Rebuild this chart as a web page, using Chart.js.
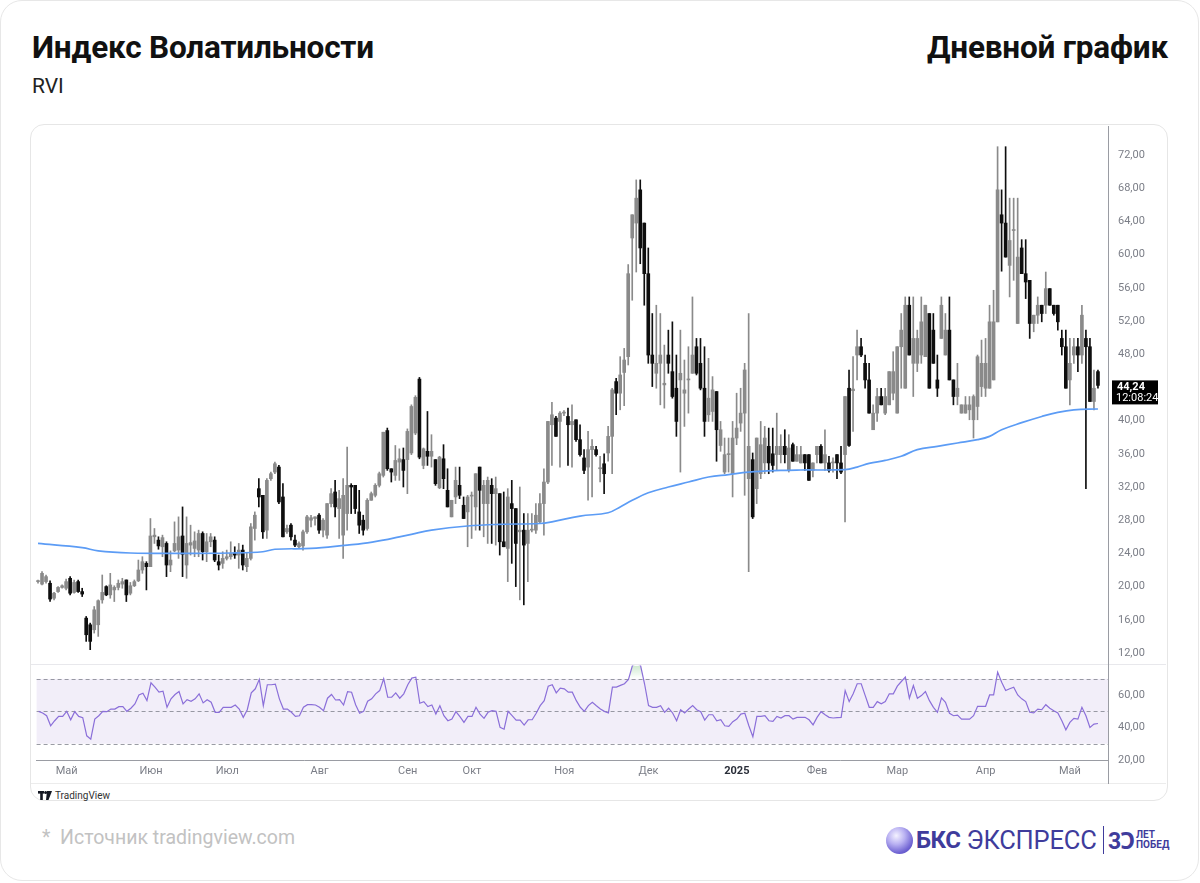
<!DOCTYPE html>
<html lang="ru">
<head>
<meta charset="utf-8">
<script src="https://cdn.jsdelivr.net/npm/chart.js@4.4.1/dist/chart.umd.min.js"></script>
<style>
  html, body { margin: 0; padding: 0; background: #fff; }
  body { width: 1200px; height: 883px; position: relative; overflow: hidden; font-family: Roboto, "Noto Sans", sans-serif; }
  .outer { position: absolute; left: 0; top: 0; width: 1197px; height: 879px; border: 1.5px solid #e7e7e7; border-radius: 22px; }
  .title { position: absolute; top: 29px; font-weight: 700; font-size: 31.5px; color: #111; letter-spacing: -0.2px; }
  .sub { position: absolute; left: 32px; top: 74px; font-size: 21px; color: #222; }
  .card { position: absolute; left: 30px; top: 124px; width: 1136px; height: 675px; border: 1px solid #e6e6e6; border-radius: 14px; }
  .sep { position: absolute; height: 1px; background: #e8e8ec; }
  .wrap { position: absolute; }
  .tv { position: absolute; left: 38px; top: 790px; font-size: 10px; color: #333; display: flex; align-items: center; gap: 3px; }
  .src { position: absolute; left: 42px; top: 826px; font-size: 19.5px; color: #c2c2c2; }
  .logo { position: absolute; left: 886px; top: 823px; height: 34px; display: flex; align-items: center; color: #3f3c9c; }
  .ball { width: 27px; height: 27px; border-radius: 50%; background: radial-gradient(circle at 38% 32%, #f4f2ff 0%, #b9b1f2 35%, #6e62d2 70%, #4a3fb4 100%); margin-right: 3px; }
  .bks { font-weight: 700; font-size: 24px; letter-spacing: -0.5px; }
  .exp { font-weight: 400; font-size: 25.5px; margin-left: 6px; letter-spacing: -0.2px; }
  .bar { width: 1.5px; height: 28px; background: #3f3c9c; margin: 0 4px 0 6px; }
  .n30 { font-weight: 700; font-size: 23px; letter-spacing: -1px; }
  .let { font-weight: 700; font-size: 10px; line-height: 10px; margin-left: 2px; }
</style>
</head>
<body>
<div class="outer"></div>
<div class="title" style="left:32px;">Индекс Волатильности</div>
<div class="title" style="right:32px;">Дневной график</div>
<div class="sub">RVI</div>

<div class="card"></div>
<div class="sep" style="left:31px; top:664px; width:1135px;"></div>
<div class="sep" style="left:31px; top:783px; width:1135px; background:#ececec;"></div>

<div class="wrap" style="left:36px; top:126px; width:1130px; height:539px;"><canvas id="main" width="1130" height="539"></canvas></div>
<div class="wrap" style="left:36px; top:665px; width:1130px; height:119px;"><canvas id="rsi" width="1130" height="119"></canvas></div>

<div class="tv"><svg width="14" height="9" viewBox="0 0 14 9"><rect x="0" y="0" width="6" height="2.6" fill="#131722"/><rect x="2.2" y="0" width="2.6" height="9" fill="#131722"/><circle cx="7.6" cy="1.5" r="1.5" fill="#131722"/><polygon points="9,0 14,0 10.5,9 8,9" fill="#131722"/></svg><span>TradingView</span></div>

<div class="src">*&nbsp; Источник tradingview.com</div>
<div class="logo">
  <div class="ball"></div>
  <span class="bks">БКС</span><span class="exp">ЭКСПРЕСС</span>
  <div class="bar"></div>
  <span class="n30">3Ͻ</span>
  <span class="let">ЛЕТ<br>ПОБЕД</span>
</div>

<script>
// ---------------- DATA ----------------
const opens = [
20.6,20.3,20.6,20.4,18.6,19.4,19.9,19.8,21.0,19.3,
20.6,19.4,16.2,15.4,14.8,15.4,18.4,20.0,19.0,19.6,
19.9,20.3,20.8,19.2,20.1,20.7,22.0,22.8,22.4,26.0,
25.6,24.8,25.2,22.6,24.3,24.4,26.1,22.6,25.0,24.6,
24.4,26.4,24.2,25.4,25.6,23.0,22.8,23.4,23.6,24.0,
23.8,24.4,22.4,23.4,27.0,31.8,31.0,26.8,33.0,33.8,
34.4,30.8,26.6,27.4,25.6,24.8,24.9,26.6,28.0,28.2,
28.6,26.8,26.2,30.0,31.4,29.4,26.2,28.8,32.2,32.2,
29.0,28.0,27.0,30.4,31.0,32.2,33.4,38.8,34.2,33.4,
35.0,35.3,35.3,36.1,38.5,45.0,34.6,36.3,35.7,35.3,
31.9,35.4,31.6,28.4,30.8,32.2,29.8,29.0,30.9,29.6,
34.4,30.0,30.0,32.2,31.2,31.2,25.4,24.6,30.0,29.4,
26.6,26.8,25.2,26.8,26.8,27.8,30.0,32.6,39.5,40.3,
39.9,40.9,40.5,39.5,40.1,37.7,35.5,34.4,36.5,36.5,
34.2,34.8,36.1,38.1,44.7,43.3,45.8,47.7,62.0,63.8,
67.8,63.8,57.7,47.9,45.7,46.9,44.3,47.9,45.9,43.9,
44.9,43.3,44.9,45.7,48.9,46.9,43.9,40.7,41.1,43.5,
37.0,33.8,35.9,33.6,37.9,39.7,40.9,33.0,35.3,31.8,
33.6,34.9,36.9,36.0,35.9,35.9,36.9,34.0,37.1,35.1,
34.9,35.9,35.9,34.0,35.9,36.9,34.9,34.9,34.9,35.9,
34.9,35.9,43.9,43.6,47.9,48.9,46.9,44.9,38.9,40.9,
42.9,40.9,41.9,43.3,40.9,48.9,43.9,53.9,46.9,46.9,
47.9,47.7,52.9,50.9,44.9,49.9,47.9,50.9,44.9,42.9,
40.9,40.9,41.3,40.1,41.7,44.1,43.9,43.9,44.9,51.9,
64.8,63.8,58.7,62.9,51.7,60.8,57.7,56.9,51.7,52.7,
53.9,53.9,55.9,53.9,53.9,49.9,48.9,44.9,47.9,48.9,
47.9,49.9,48.9,42.3,45.9];

const highs = [
20.8,21.8,21.4,20.7,19.3,20.0,20.2,20.9,21.2,20.8,
20.8,19.8,16.4,15.6,17.6,18.4,21.4,20.1,21.6,20.1,
20.8,21.0,20.8,20.5,20.8,23.2,23.6,23.0,28.2,27.0,
26.0,26.2,25.4,24.3,27.8,28.4,29.6,28.4,27.4,26.6,
26.8,26.6,26.4,26.4,26.0,23.8,24.2,24.4,25.4,24.8,
25.2,25.0,24.0,27.6,29.0,33.0,31.0,33.0,33.8,35.0,
34.6,32.4,27.4,27.6,26.2,25.4,26.8,28.6,28.6,28.4,
28.8,28.2,30.0,31.8,32.8,31.6,33.0,36.8,32.4,32.2,
31.6,28.6,30.6,31.4,32.4,33.8,38.6,39.1,34.2,37.0,
36.6,36.7,39.0,41.9,43.0,45.2,36.7,41.1,38.3,35.3,
35.7,37.1,34.2,30.4,34.4,34.4,30.8,31.0,31.4,33.6,
34.4,32.8,33.2,33.0,33.2,31.2,31.4,31.8,32.8,29.4,
32.0,28.8,28.8,28.8,30.0,31.2,34.2,39.9,42.2,40.5,
41.1,41.2,41.5,41.9,40.1,39.5,36.5,38.7,37.7,36.9,
35.7,36.0,39.3,43.9,45.1,47.7,48.7,58.8,64.8,69.0,
69.0,63.8,60.8,52.9,53.9,52.9,49.1,50.9,51.9,47.9,
50.9,47.3,48.9,54.9,49.9,49.9,48.9,47.5,45.3,43.5,
39.9,37.9,37.9,39.9,43.3,43.9,46.9,52.9,36.1,37.9,
39.9,39.3,39.1,39.1,40.9,38.3,38.9,38.3,37.3,36.9,
36.9,35.9,35.9,34.9,36.9,37.1,38.9,35.7,35.5,35.9,
36.9,42.9,46.1,47.7,50.9,49.9,47.9,46.9,41.9,43.9,
43.9,43.9,45.9,48.3,48.9,52.9,54.9,54.9,54.9,50.9,
54.9,53.9,52.9,52.9,47.9,54.9,52.9,54.9,44.9,46.9,
41.9,42.9,42.9,43.1,47.9,49.7,49.9,53.9,55.7,73.0,
67.8,73.0,66.8,66.8,66.8,61.8,61.8,56.9,52.7,54.9,
53.9,57.9,55.9,53.9,53.9,50.9,50.9,49.9,49.9,49.9,
53.9,50.9,49.9,46.1,46.1];

const lows = [
20.4,20.2,20.4,18.2,18.4,19.3,19.8,19.6,19.0,19.2,
19.3,18.8,13.4,12.4,14.4,14.0,18.0,18.9,18.6,18.2,
19.6,19.8,18.2,19.0,20.0,20.6,21.6,19.6,22.4,25.2,
24.5,23.6,21.2,21.8,24.2,23.4,21.2,21.0,23.8,23.6,
23.6,23.2,23.0,24.8,23.0,22.0,22.2,23.2,23.3,23.4,
22.2,22.0,21.8,23.2,25.6,29.6,25.8,25.8,32.8,33.6,
30.0,26.0,26.4,25.6,24.8,24.6,24.4,26.4,27.2,27.4,
26.4,26.0,25.8,29.6,28.4,25.8,23.4,26.8,28.8,28.8,
26.4,26.2,26.8,30.4,30.8,32.0,33.2,34.0,32.6,32.8,
32.8,32.0,31.2,35.9,38.3,35.4,34.2,34.6,34.4,32.2,
31.8,31.8,29.6,28.4,30.0,30.6,28.2,24.8,25.8,26.8,
26.8,26.0,25.2,25.2,25.0,23.8,24.8,20.6,22.8,20.0,
18.4,17.8,20.6,26.6,26.4,27.6,26.2,32.4,34.6,38.1,
34.4,40.6,34.6,34.4,37.5,35.7,33.6,30.4,30.8,35.7,
32.6,31.2,35.1,33.6,40.7,41.3,41.8,46.7,54.5,57.9,
58.9,53.9,46.9,44.1,43.9,41.9,41.5,45.7,42.7,38.1,
33.8,39.3,40.9,45.7,45.5,43.7,38.1,39.9,39.9,35.1,
36.3,33.6,33.8,30.8,37.1,38.7,31.0,21.8,28.2,30.0,
33.0,33.6,33.6,33.8,34.0,34.9,34.9,33.8,35.1,35.1,
34.9,34.0,32.8,33.2,34.9,34.9,34.0,33.8,33.8,33.0,
33.6,27.8,36.9,38.7,44.9,47.7,43.9,40.9,38.9,39.9,
41.9,40.7,41.9,42.5,40.9,43.9,43.9,47.9,42.9,45.9,
46.9,47.7,43.9,46.9,42.9,49.9,47.9,44.9,41.9,41.9,
40.9,40.9,40.1,37.9,40.1,42.9,42.9,43.9,44.9,51.9,
58.0,59.7,54.9,56.9,51.7,57.7,54.7,49.9,50.7,51.7,
51.9,52.9,53.9,52.7,50.9,47.9,43.9,41.9,46.9,45.9,
46.9,31.8,42.3,41.3,43.9];

const closes = [
20.6,21.6,21.2,18.5,19.2,19.9,20.1,20.6,19.2,20.5,
19.4,19.1,14.2,13.4,17.2,18.3,19.3,19.0,20.2,19.9,
20.4,20.6,19.0,20.1,20.6,22.0,23.0,22.4,26.1,26.2,
24.9,25.9,22.6,23.2,25.2,26.0,23.9,25.2,25.3,25.5,
26.4,24.2,25.4,26.0,23.2,22.6,23.4,23.6,24.0,23.8,
24.4,22.6,23.4,27.2,28.6,30.8,26.6,32.8,33.6,34.8,
30.2,26.0,27.0,26.0,25.0,25.2,26.6,28.4,28.3,28.4,
26.8,28.0,30.0,31.2,29.6,30.6,31.0,32.2,32.0,29.4,
27.4,26.8,30.4,31.2,32.2,33.6,38.6,34.2,33.8,35.2,
35.4,34.0,38.7,41.7,42.8,35.6,36.6,35.7,36.3,32.4,
35.6,33.0,29.6,30.4,32.8,31.0,28.2,30.8,30.9,33.6,
31.6,32.2,32.8,31.2,31.8,25.4,24.8,30.8,29.4,25.2,
26.8,25.0,26.8,26.8,28.6,30.0,32.6,39.9,40.7,38.1,
40.9,41.0,39.5,39.9,37.7,35.9,34.0,36.5,36.9,35.9,
34.2,33.6,38.1,43.7,43.3,45.5,47.3,57.7,64.8,66.8,
60.8,57.7,47.9,46.9,46.9,47.9,44.5,46.9,42.9,39.9,
45.7,43.7,44.9,47.9,45.7,43.9,39.9,42.7,43.7,38.9,
38.9,35.9,35.9,37.9,39.1,40.9,46.1,36.9,28.4,37.9,
37.1,37.9,34.9,34.6,36.9,36.9,35.9,36.7,35.1,35.9,
35.9,34.9,32.8,34.9,36.9,34.9,35.9,34.0,34.9,34.9,
33.8,42.9,37.0,43.8,48.9,47.9,44.9,40.9,40.9,42.9,
41.9,42.9,45.9,45.9,48.9,50.9,53.9,47.9,49.9,49.9,
51.9,53.9,43.9,46.9,43.9,53.9,50.9,44.9,42.9,43.9,
41.9,41.9,41.9,42.9,47.7,46.9,46.9,51.9,51.9,67.8,
63.8,59.7,61.7,63.0,59.7,57.7,56.7,51.7,52.7,53.9,
52.9,55.9,53.9,52.9,51.9,48.9,43.9,46.9,48.9,47.9,
52.7,48.9,42.3,43.9,44.24];

// Moving average: [candle index, value] pairs
const maIndex = [0,11,15,23,35,48,56,59,68,77,81,86,90,93,98,107,115,125,128,135,142,145,148,152,157,162,167,172,177,185,190,201,204,207,211,215,219,224,229,234,237,240,245,250,254,258,264];
const maValue = [25.2,24.7,24.3,24.05,24.0,24.05,24.2,24.5,24.6,25.0,25.2,25.6,26.0,26.3,26.8,27.3,27.5,27.6,27.8,28.5,28.9,29.6,30.4,31.3,32.0,32.6,33.2,33.5,33.8,34.0,34.05,34.1,34.4,34.85,35.2,35.7,36.5,36.9,37.3,37.7,38.1,38.9,39.75,40.5,41.0,41.3,41.4];

const rsiValues = [
50,49,47.3,41.1,44.2,46.9,46.9,50,44.8,49.8,
46.9,46.1,34.9,32.8,45.2,47.3,50,49.8,51.4,51.4,
52.9,52.9,50,51.9,54.6,60.1,61.2,56.6,67.6,64.9,
61.8,62.4,52.5,57.7,60.4,62.2,54.6,57.2,56.2,57.7,
60.8,55.2,57.2,55.6,49.4,49.4,52.5,52.5,52.5,53.9,
51.4,46.3,51.0,61.4,63.9,69.7,53.5,66.4,66.4,66.8,
57.7,51.4,51.4,49.4,46.9,47.3,52.5,54.1,54.1,53.9,
52.5,50.4,58.1,60.4,57.0,57.2,53.9,62.2,61.8,54.1,
48.8,50,56.2,57.7,60.8,62.8,70.1,58.7,58.7,61.4,
58.1,60.8,66.4,70.5,71.1,55.0,56.0,52.9,53.9,48.3,
53.5,47.3,44.2,45.2,49.8,46.7,43.2,46.9,46.9,52.5,
48.3,45.7,49.4,50.4,50.0,40.1,39.0,50,47.3,44.6,
44.6,41.5,44.8,44.8,48.8,53.5,56.6,65.5,66.4,61.4,
64.3,63.9,61.8,61.8,56.6,52.5,50,53.5,
55.6,53.5,51.5,50,49,64.9,64.9,66,67,69.7,78.4,79.4,
78.4,67,53.5,52.5,52.5,53.5,49.4,51.9,49,44.2,
51.0,49,51.4,53.5,51.0,49.8,44.6,47.9,47.9,44.2,
44.8,41.1,40.7,43.6,45.2,48.3,48.8,41.1,34.3,46.9,
46.9,47.3,44.2,43.8,46.9,45.9,47.3,47.3,45.2,46.3,
46.3,46.3,44.8,41.7,46.3,49.8,47.9,46.3,45.9,46.1,
46.3,62.8,
56.0,60.8,67,67,59.7,52.5,52.5,56.0,54.6,56.0,
60.8,60.8,65.5,68.4,71.1,58.1,65.9,58.1,59.7,62.2,
56.6,52.5,49.4,58.3,55.6,48.8,47.3,47.7,45.2,45.2,
45.2,47.3,53.1,53.1,53.1,60.1,60.1,74.2,68,62.8,
63.9,64.9,60.1,57.7,56.0,49.4,49,51.4,51.0,54.1,
51.9,50.4,49,44.2,38.6,43.2,45.7,45.2,52.5,47.3,
40.1,42.1,42.5];

const monthTickIndex = [7, 28, 47, 70, 92, 108, 131, 152, 174, 194, 214, 236, 257];
const monthTickLabel = ['Май','Июн','Июл','Авг','Сен','Окт','Ноя','Дек','2025','Фев','Мар','Апр','Май'];
const priceTicks = [12,16,20,24,28,32,36,40,44,48,52,56,60,64,68,72];
const rsiTicks = [20,40,60];
const rsiLevels = [70,50,30];
const rsiBand = [30,70];
const countdownText = '12:08:24';
const categoryCount = 267;

// ---------------- BUILD ----------------
const categories = Array.from({length: categoryCount}, (_, i) => String(i));
const monthMap = {};
monthTickIndex.forEach((ix, k) => { monthMap[ix] = monthTickLabel[k]; });
const fmt = v => Number(v).toFixed(2).replace('.', ',');

const UP = '#8a8a8a', DOWN = '#0e0e0e';
const candleColor = opens.map((o, i) => closes[i] >= o ? UP : DOWN);

Chart.defaults.font.family = 'Roboto, "Noto Sans", sans-serif';
Chart.defaults.animation = false;

const axisColor = '#9a9ca3';
const tickColor = '#7b7e87';

function fixY(width) {
  return s => { s.width = width; s.paddingTop = 0; s.paddingBottom = 0; };
}

const priceLabelPlugin = {
  id: 'priceLabel',
  afterDraw(chart) {
    const {ctx, chartArea: a, scales: {y}} = chart;
    const last = closes[closes.length - 1];
    const py = y.getPixelForValue(last);
    const x0 = a.right + 4;
    ctx.save();
    ctx.fillStyle = '#000';
    ctx.fillRect(x0, py - 5, 46, 24);
    ctx.fillStyle = '#fff';
    ctx.textBaseline = 'middle';
    ctx.textAlign = 'left';
    ctx.font = 'bold 11px Roboto, sans-serif';
    ctx.fillText(fmt(last), x0 + 5, py + 1.5);
    ctx.font = '11px Roboto, sans-serif';
    ctx.fillText(countdownText, x0 + 4, py + 12.5);
    ctx.restore();
  }
};

new Chart(document.getElementById('main'), {
  type: 'bar',
  data: {
    labels: categories,
    datasets: [
      {
        label: 'wick',
        data: lows.map((l, i) => [l, highs[i]]),
        backgroundColor: candleColor,
        barThickness: 1,
        grouped: false,
        borderWidth: 0,
        order: 3
      },
      {
        label: 'body',
        data: opens.map((o, i) => [o, closes[i]]),
        backgroundColor: candleColor,
        barThickness: 3,
        minBarLength: 1,
        grouped: false,
        borderWidth: 0,
        order: 2
      },
      {
        type: 'line',
        label: 'MA',
        data: maIndex.map((ix, k) => ({x: categories[ix], y: maValue[k]})),
        borderColor: '#5c9cf5',
        borderWidth: 1.7,
        pointRadius: 0,
        tension: 0.4,
        fill: false,
        order: 1
      }
    ]
  },
  options: {
    responsive: false,
    devicePixelRatio: 1,
    layout: {padding: 0},
    plugins: {legend: {display: false}, tooltip: {enabled: false}},
    scales: {
      x: {type: 'category', display: false, offset: true, grid: {display: false}},
      y: {
        position: 'right',
        min: 10.554, max: 75.494,
        afterBuildTicks: s => { s.ticks = priceTicks.map(v => ({value: v})); },
        afterFit: fixY(58),
        grid: {display: false, drawTicks: false},
        border: {display: true, color: axisColor, width: 1},
        ticks: {callback: v => fmt(v), color: tickColor, font: {size: 11}, padding: 10}
      }
    }
  },
  plugins: [priceLabelPlugin]
});

const rsiBackPlugin = {
  id: 'rsiBack',
  beforeDatasetsDraw(chart) {
    const {ctx, chartArea: a, scales: {y}} = chart;
    ctx.save();
    const yTop = y.getPixelForValue(rsiBand[1]);
    const yBot = y.getPixelForValue(rsiBand[0]);
    ctx.fillStyle = 'rgba(126,87,194,0.10)';
    ctx.fillRect(a.left, yTop, a.right - a.left, yBot - yTop);
    ctx.strokeStyle = 'rgba(120,123,134,0.75)';
    ctx.lineWidth = 1;
    ctx.setLineDash([4, 3]);
    rsiLevels.forEach(v => {
      const py = Math.round(y.getPixelForValue(v)) + 0.5;
      ctx.beginPath(); ctx.moveTo(a.left, py); ctx.lineTo(a.right, py); ctx.stroke();
    });
    ctx.restore();
  },
  afterDraw(chart) {
    const {ctx, chartArea: a} = chart;
    ctx.save();
    ctx.strokeStyle = axisColor;
    ctx.lineWidth = 1;
    const x = Math.round(a.right) + 0.5;
    ctx.beginPath(); ctx.moveTo(x, a.bottom); ctx.lineTo(x, chart.height); ctx.stroke();
    ctx.restore();
  }
};

const rsiChart = new Chart(document.getElementById('rsi'), {
  type: 'line',
  data: {
    labels: categories,
    datasets: [{
      label: 'RSI',
      data: rsiValues,
      borderColor: '#8b6fd9',
      borderWidth: 1.2,
      pointRadius: 0,
      tension: 0,
      fill: false
    }]
  },
  options: {
    responsive: false,
    devicePixelRatio: 1,
    layout: {padding: 0},
    plugins: {legend: {display: false}, tooltip: {enabled: false}},
    scales: {
      x: {
        type: 'category',
        offset: true,
        grid: {display: false, drawTicks: false},
        border: {display: true, color: axisColor, width: 1},
        afterFit: s => { s.height = 24; s.paddingLeft = 0; s.paddingRight = 0; },
        ticks: {
          autoSkip: false, maxRotation: 0, minRotation: 0, padding: 5,
          callback: (v, i) => monthMap[i] !== undefined ? monthMap[i] : '',
          color: c => monthMap[c.index] === '2025' ? '#2a2e39' : tickColor,
          font: c => ({size: 11, weight: monthMap[c.index] === '2025' ? 'bold' : 'normal'})
        }
      },
      y: {
        position: 'right',
        min: 20, max: 78.2,
        afterBuildTicks: s => { s.ticks = rsiTicks.map(v => ({value: v})); },
        afterFit: fixY(58),
        grid: {display: false, drawTicks: false},
        border: {display: true, color: axisColor, width: 1},
        ticks: {callback: v => fmt(v), color: tickColor, font: {size: 11}, padding: 10}
      }
    }
  },
  plugins: [rsiBackPlugin]
});

// overbought gradient fill (above the 70 level)
(function () {
  const ys = rsiChart.scales.y;
  const g = rsiChart.ctx.createLinearGradient(0, ys.getPixelForValue(86), 0, ys.getPixelForValue(70));
  g.addColorStop(0, 'rgba(76,175,80,0.55)');
  g.addColorStop(1, 'rgba(76,175,80,0)');
  rsiChart.data.datasets[0].fill = {target: {value: rsiLevels[0]}, above: g, below: 'rgba(0,0,0,0)'};
  rsiChart.update('none');
})();
</script>
</body>
</html>
